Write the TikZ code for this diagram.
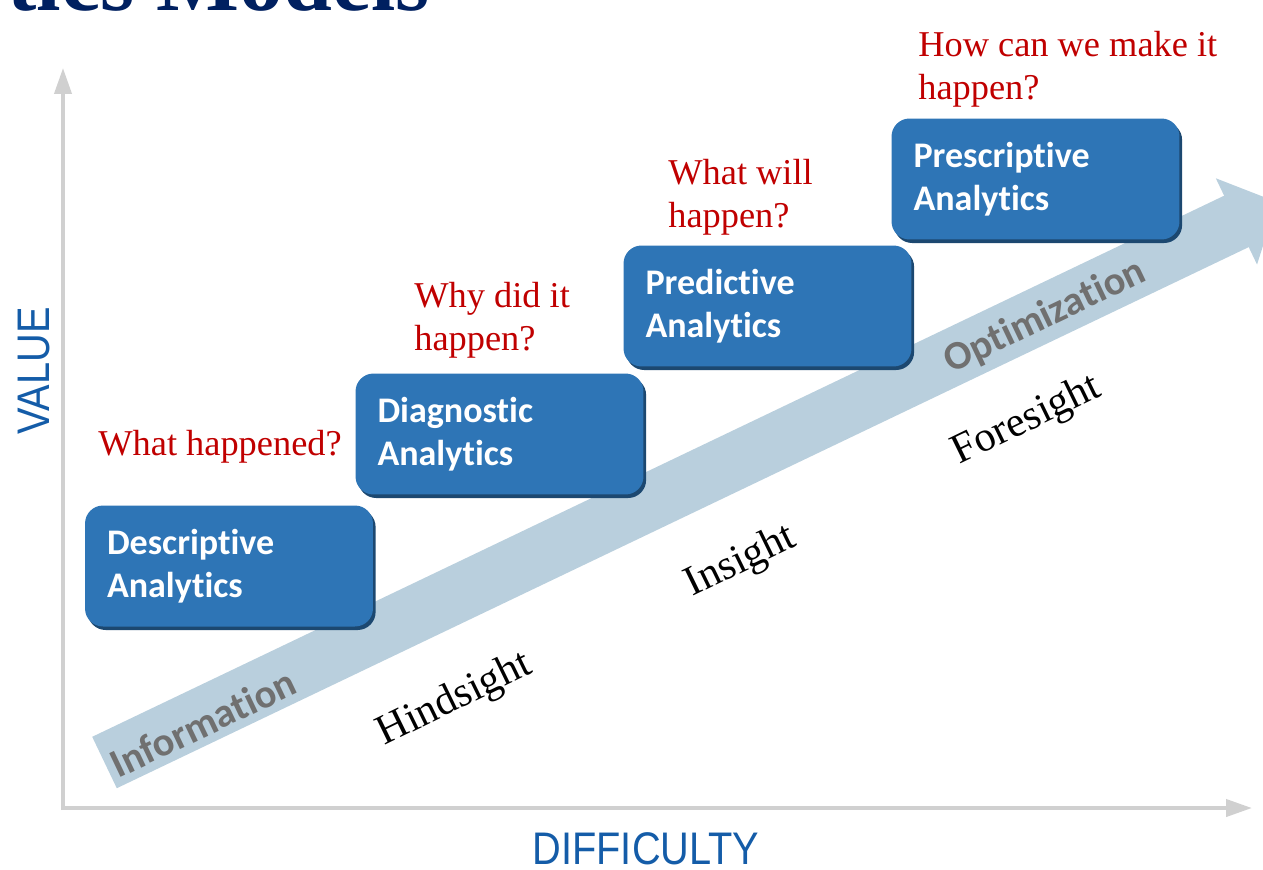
\documentclass[tikz,border=0pt]{standalone}
\usepackage{fontspec}
\setmainfont{Liberation Serif}
\newfontfamily\boxfont[Ligatures=NoCommon]{Carlito}
\newfontfamily\axisfont[FakeStretch=0.87]{Liberation Sans}
\usetikzlibrary{arrows.meta,shadows}

\definecolor{boxblue}{RGB}{46,117,182}
\definecolor{boxshade}{RGB}{28,72,112}
\definecolor{trendblue}{RGB}{185,207,221}
\definecolor{axisgray}{RGB}{208,208,208}
\definecolor{labelblue}{RGB}{20,92,168}
\definecolor{askred}{RGB}{192,0,0}
\definecolor{trendgray}{RGB}{112,112,112}
\definecolor{titlenavy}{RGB}{0,32,96}

\tikzset{
  stage/.style={rectangle, rounded corners=0.36cm, fill=boxblue, text=white,
    minimum height=2.42cm, text width=4.88cm, inner xsep=0.44cm, align=left,
    font=\boxfont\bfseries\fontsize{20.5}{24.5}\selectfont,
    drop shadow={shadow xshift=1.5pt, shadow yshift=-2pt, fill=boxshade, opacity=1}},
  ask/.style={anchor=base west, inner sep=0pt, align=left, text=askred,
    font=\fontsize{20.7}{24.4}\selectfont},
  sight/.style={rotate=26, inner sep=0pt, font=\fontsize{24}{28}\selectfont},
  trendlabel/.style={rotate=25.5, inner sep=0pt, text=trendgray,
    font=\boxfont\bfseries\fontsize{23}{28}\selectfont},
  axis/.style={axisgray, line width=0.08cm, -{Triangle[width=0.34cm, length=0.52cm]}},
  axislabel/.style={inner sep=0pt, text=labelblue, font=\axisfont\fontsize{26}{30}\selectfont},
}

\begin{document}
\begin{tikzpicture}[x=0.02cm, y=-0.02cm]
    \useasboundingbox (0,0) rectangle (1263,869);
    \clip (0,0) rectangle (1263,869);

    % slide title, mostly cut off at the top
    \node[anchor=base east, inner sep=0pt, text=titlenavy,
          font=\bfseries\fontsize{50}{50}\selectfont] (title) at (430,10) {Analytics Models};

    % axes
    \coordinate (origin) at (63,808);
    \coordinate (vtop) at (63,68);
    \coordinate (hend) at (1252,808);
    \draw[axis] ([yshift=-0.04cm]origin) -- (vtop);
    \draw[axis] ([xshift=-0.04cm]origin) -- (hend);
    \node[axislabel, rotate=90] (value) at (34,371) {VALUE};
    \node[axislabel] (difficulty) at (646,849) {DIFFICULTY};

    % the big trend arrow
    \coordinate (trendstart) at (104.5,762.5);
    \coordinate (trendend) at (1277,202);
    \draw[trendblue, line width=1.14cm, -{Triangle[width=1.86cm, length=0.9cm]}] (trendstart) -- (trendend);
    \node[trendlabel] (information) at (203,723) {Information};
    \node[trendlabel] (optimization) at (1045,317) {Optimization};

    \node[sight] (hindsight) at (455,700) {Hindsight};
    \node[sight] (insight) at (741,562) {Insight};
    \node[sight] (foresight) at (1027,421) {Foresight};

    % the four stages
    \node[stage] (descr) at (229,566) {Descriptive\\Analytics};
    \node[stage] (diagn) at (499.5,434) {Diagnostic\\Analytics};
    \node[stage] (predict) at (767.5,306) {Predictive\\Analytics};
    \node[stage] (prescr) at (1035.5,179) {Prescriptive\\Analytics};

    % questions (base is the last line)
    \node[ask] (q1) at (98,455) {What happened?};
    \node[ask] (q2) at (414,350) {Why did it\\happen?};
    \node[ask] (q3) at (668,227) {What will\\happen?};
    \node[ask] (q4) at (918,99) {How can we make it\\happen?};
\end{tikzpicture}
\end{document}
